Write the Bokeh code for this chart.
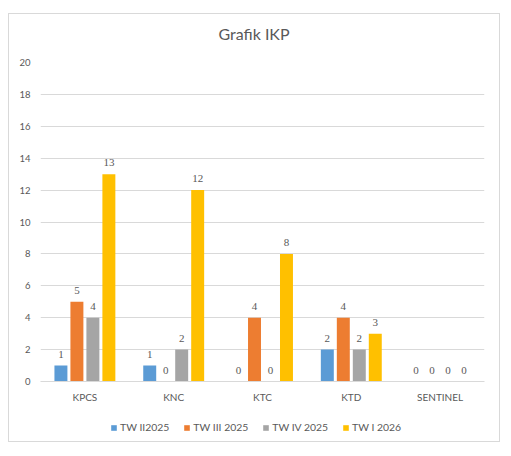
from bokeh.plotting import figure
from bokeh.layouts import column
from bokeh.models import ColumnDataSource, Legend, LegendItem, Label, LabelSet, FixedTicker
from bokeh.transform import dodge
from bokeh.embed import file_html
from bokeh.resources import INLINE

categories = ["KPCS", "KNC", "KTC", "KTD", "SENTINEL"]
series_names = ["TW II2025", "TW III 2025", "TW IV 2025", "TW I 2026"]
tw2_2025 = [1, 1, 0, 2, 0]
tw3_2025 = [5, 0, 4, 4, 0]
tw4_2025 = [4, 2, 0, 2, 0]
tw1_2026 = [13, 12, 8, 3, 0]
y_ticks = [0, 2, 4, 6, 8, 10, 12, 14, 16, 18, 20]
title_text = "Grafik IKP"

series = [tw2_2025, tw3_2025, tw4_2025, tw1_2026]
colors = ["#5B9BD5", "#ED7D31", "#A5A5A5", "#FFC000"]
offsets = [-0.27, -0.09, 0.09, 0.27]
FONT = "Lato"
TXT = "#595959"
W = 490


def plain_fig(h):
    f = figure(width=W, height=h, x_range=(0, 1), y_range=(0, 1),
               x_axis_type=None, y_axis_type=None, output_backend="svg",
               toolbar_location=None, min_border=0, outline_line_color=None)
    f.xgrid.grid_line_color = None
    f.ygrid.grid_line_color = None
    return f


# header with title (its frame is aligned with the main chart's frame)
head = plain_fig(40)
head.add_layout(Label(x=213.5, y=21, x_units="screen", y_units="screen", text=title_text,
                      anchor="center", text_align="center", text_baseline="middle",
                      text_font=FONT, text_font_size="16px", text_color=TXT))

# main chart
data = {"cat": categories}
for i, s in enumerate(series):
    data[f"s{i}"] = s
    data[f"l{i}"] = [str(v) for v in s]
src = ColumnDataSource(data)

p = figure(x_range=categories, y_range=(0, 20), frame_width=444, frame_height=319,
           output_backend="svg", toolbar_location=None,
           min_border_left=31, min_border_right=15, min_border_top=8, min_border_bottom=24,
           outline_line_color=None)

for i, s in enumerate(series):
    p.vbar(x=dodge("cat", offsets[i], range=p.x_range), top=f"s{i}", width=0.146,
           source=src, fill_color=colors[i], line_color=None)
    p.add_layout(LabelSet(x=dodge("cat", offsets[i], range=p.x_range), y=f"s{i}", text=f"l{i}",
                          source=src, text_align="center", text_baseline="bottom", y_offset=8,
                          text_font=FONT, text_font_size="11px", text_color=TXT))

p.yaxis.ticker = FixedTicker(ticks=y_ticks)
p.yaxis.axis_line_color = None
p.yaxis.major_tick_line_color = None
p.yaxis.minor_tick_line_color = None
p.yaxis.major_label_standoff = 4
p.yaxis.major_label_text_font = FONT
p.yaxis.major_label_text_font_size = "9.5px"
p.yaxis.major_label_text_color = TXT

p.xaxis.axis_line_color = "#d9d9d9"
p.xaxis.major_tick_line_color = None
p.xaxis.minor_tick_line_color = None
p.xaxis.major_label_standoff = 3
p.xaxis.major_label_text_font = FONT
p.xaxis.major_label_text_font_size = "10px"
p.xaxis.major_label_text_color = TXT

p.xgrid.grid_line_color = None
p.ygrid.grid_line_color = "#d9d9d9"
p.ygrid.ticker = FixedTicker(ticks=y_ticks)
p.x_range.range_padding = 0

# legend strip (legend renderers share the series data but are not drawn here)
leg = plain_fig(36)
items = []
idx = list(range(len(categories)))
for i, s in enumerate(series):
    r = leg.vbar(x=idx, top=s, width=0.1, fill_color=colors[i], line_color=None, visible=False)
    items.append(LegendItem(label=series_names[i], renderers=[r]))
leg.add_layout(Legend(items=items, orientation="horizontal", location=(70, 8),
                      glyph_width=7, glyph_height=7, label_standoff=3, spacing=14,
                      padding=0, margin=0, border_line_color=None, background_fill_alpha=0,
                      label_text_font=FONT, label_text_font_size="10.4px",
                      label_text_color=TXT))

layout = column(head, p, leg, margin=(13, 0, 0, 8), spacing=0,
                styles={"border": "1px solid #d9d9d9"})

open("out.html", "w").write(file_html(layout, INLINE))
